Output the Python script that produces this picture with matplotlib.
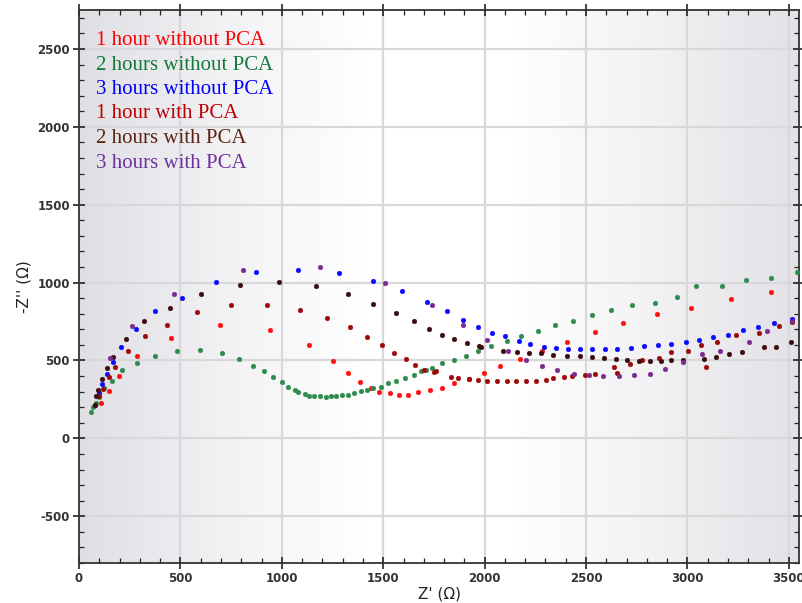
import numpy as np
import matplotlib
matplotlib.use('Agg')
import matplotlib.pyplot as plt
from matplotlib.colors import LinearSegmentedColormap

plt.rcParams['axes.unicode_minus'] = False

# --- data (Z' , -Z'' in ohm) ---
labels = ['1 hour without PCA', '2 hours without PCA', '3 hours without PCA',
          '1 hour with PCA', '2 hours with PCA', '3 hours with PCA']

red_x = [107, 147, 197, 286, 456, 697, 941, 1134, 1252, 1326, 1384, 1438, 1481, 1534, 1578, 1620,
         1672, 1731, 1792, 1850, 1923, 1998, 2078, 2173, 2285, 2404, 2542, 2684, 2851, 3016, 3213, 3412]
red_y = [229, 302, 400, 532, 643, 725, 695, 599, 494, 419, 361, 323, 295, 289, 280, 280,
         295, 310, 325, 355, 381, 422, 467, 512, 563, 620, 680, 740, 800, 836, 896, 938]

green_x = [58, 71, 84, 100, 125, 161, 212, 288, 375, 485, 597, 707, 790, 860, 913, 956, 1001, 1032,
           1063, 1082, 1112, 1135, 1161, 1186, 1216, 1244, 1269, 1297, 1326, 1354, 1392, 1420, 1450,
           1491, 1524, 1565, 1606, 1650, 1688, 1713, 1741, 1792, 1849, 1909, 1966, 2032, 2108, 2180,
           2262, 2345, 2434, 2529, 2624, 2728, 2838, 2950, 3044, 3170, 3287, 3414, 3539]
green_y = [170, 202, 230, 268, 323, 370, 436, 481, 532, 562, 568, 547, 511, 464, 430, 393, 361, 332,
           310, 296, 287, 275, 275, 275, 268, 275, 275, 281, 281, 289, 302, 310, 323,
           332, 355, 370, 385, 409, 430, 442, 451, 481, 502, 532, 562, 591, 622, 656,
           688, 725, 755, 791, 821, 857, 872, 909, 977, 977, 1014, 1029, 1065]

blue_x = [100, 115, 138, 168, 206, 280, 375, 508, 675, 875, 1081, 1283, 1451, 1591, 1716, 1812, 1894,
          1967, 2034, 2099, 2167, 2226, 2292, 2351, 2410, 2469, 2529, 2595, 2654, 2720, 2785, 2853,
          2919, 2993, 3059, 3126, 3199, 3273, 3347, 3429, 3516]
blue_y = [290, 349, 415, 488, 584, 703, 820, 904, 1001, 1068, 1083, 1062, 1009, 943, 877, 818, 759,
          715, 678, 656, 627, 604, 589, 583, 574, 574, 574, 574, 574, 583, 591, 600,
          606, 619, 634, 651, 664, 694, 716, 739, 768]

dred_x = [79, 99, 118, 148, 176, 242, 324, 433, 581, 749, 927, 1088, 1223, 1334, 1422, 1496, 1555,
          1614, 1658, 1703, 1749, 1762, 1836, 1871, 1925, 1967, 2014, 2061, 2108, 2154, 2203, 2251,
          2302, 2338, 2391, 2432, 2493, 2542, 2637, 2654, 2715, 2774, 2861, 2919, 3001, 3067, 3090,
          3148, 3238, 3355, 3452, 3516]
dred_y = [213, 270, 315, 391, 457, 562, 658, 730, 811, 856, 856, 826, 775, 715, 649, 598, 547,
          508, 472, 441, 425, 430, 391, 385, 383, 377, 370, 370, 370, 370, 370, 370,
          377, 385, 393, 398, 406, 415, 457, 421, 479, 502, 515, 553, 562, 598, 457,
          619, 664, 679, 723, 749]

brown_x = [77, 84, 94, 115, 138, 166, 234, 322, 448, 603, 795, 986, 1170, 1326, 1451, 1563, 1652,
           1724, 1792, 1850, 1915, 1974, 1984, 2091, 2160, 2220, 2276, 2336, 2404, 2469, 2529, 2588,
           2647, 2703, 2763, 2817, 2869, 2919, 2976, 3082, 3141, 3207, 3268, 3378, 3436, 3511]
brown_y = [217, 270, 308, 379, 451, 524, 635, 752, 834, 930, 987, 1002, 981, 930, 862, 805, 753,
           702, 664, 636, 610, 593, 587, 562, 553, 545, 545, 538, 530, 530, 525, 517,
           511, 502, 495, 494, 495, 502, 502, 508, 524, 540, 553, 589, 589, 619]

purple_x = [153, 263, 470, 809, 1190, 1510, 1739, 1894, 2012, 2115, 2206, 2285, 2359, 2440, 2513,
            2582, 2661, 2736, 2816, 2891, 2979, 3074, 3162, 3303, 3392, 3517]
purple_y = [514, 724, 924, 1084, 1100, 995, 855, 729, 634, 561, 504, 466, 437, 414, 406,
            400, 400, 406, 415, 444, 492, 540, 562, 621, 688, 753]

series = [(red_x, red_y), (green_x, green_y), (blue_x, blue_y),
          (dred_x, dred_y), (brown_x, brown_y), (purple_x, purple_y)]
dot_colors = ['#ff1010', '#2e8b4e', '#0a0aff', '#9a0a0a', '#3c0c0c', '#7a2a90']
text_colors = ['#ff0000', '#137a3a', '#0000ff', '#c00000', '#5a2410', '#7030a0']

xmin, xmax = 0, 3550
ymin, ymax = -800, 2750

fig = plt.figure(figsize=(8.02, 6.03), dpi=100)
ax = fig.add_axes([79/802, 40/603, 720/802, 553/603])

# horizontal grey-white-grey background
cmap = LinearSegmentedColormap.from_list('bg', ['#dfdfe4', '#f2f2f5', '#ffffff', '#ffffff', '#f2f2f4', '#e2e2e7'])
grad = np.linspace(0, 1, 400).reshape(1, -1)
ax.imshow(grad, cmap=cmap, extent=[xmin, xmax, ymin, ymax], aspect='auto', zorder=0)

for (x, y), c in zip(series, dot_colors):
    ax.plot(x, y, 'o', ls='none', ms=3.4, color=c, mec=c, mew=0.3, zorder=3)

ax.set_xlim(xmin, xmax)
ax.set_ylim(ymin, ymax)
ax.set_xticks(np.arange(0, 3501, 500))
ax.set_yticks(np.arange(-500, 2501, 500))
ax.set_xticks(np.arange(0, 3551, 100), minor=True)
ax.set_yticks(np.arange(-800, 2751, 100), minor=True)
ax.grid(which='major', color='#d8d8da', lw=1.6, zorder=1)
ax.set_axisbelow(True)

ax.tick_params(which='major', direction='inout', length=9, width=1.2, color='#222222',
               top=True, right=True, labelsize=8.5, labelcolor='#333333', pad=2)
ax.tick_params(which='minor', direction='in', length=3.5, width=0.9, color='#222222',
               top=True, right=True)
for lab in ax.get_xticklabels() + ax.get_yticklabels():
    lab.set_fontweight('bold')
for s in ax.spines.values():
    s.set_linewidth(1.3)
    s.set_color('#333333')

ax.set_xlabel("Z' (\u03a9)", fontsize=11, color='#222222', labelpad=1)
ax.set_ylabel("-Z'' (\u03a9)", fontsize=11, color='#222222', labelpad=4)

# coloured text legend
for i, (lab, c) in enumerate(zip(labels, text_colors)):
    yp = 45 + i * 24.5
    ax.text(17/720, (563 - yp)/553, lab, transform=ax.transAxes, color=c,
            fontsize=15, family='Liberation Serif', va='baseline', ha='left', zorder=5)

fig.savefig('out.png', dpi=100)
